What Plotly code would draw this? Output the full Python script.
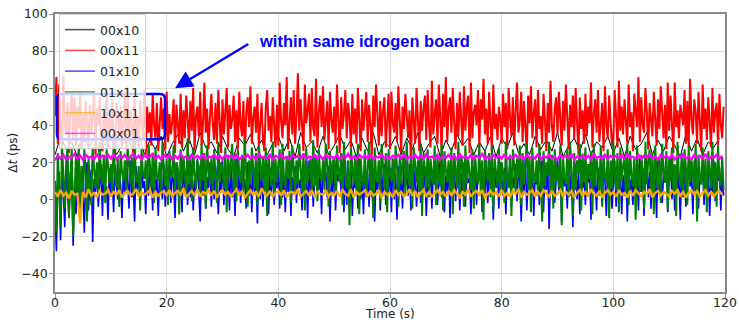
import plotly.graph_objects as go

# ---------------- data (values read/estimated from the picture) ----------------
dt_dense = 0.25   # sample spacing (s) of the dense series
dt_mid = 0.5
dt_slow = 1.0

red_00x11 = [
    45, 66, 30, 62, 38, 28, 67, 41, 35, 52, 25, 48, 58, 33, 55, 29, 50, 38, 58, 27,
    46, 31, 53, 40, 29, 51, 36, 44, 57, 24, 49, 40, 55, 32, 26, 47, 33, 60, 28, 44,
    37, 54, 30, 23, 52, 45, 35, 50, 28, 41, 58, 27, 61, 34, 48, 39, 25, 56, 31, 45,
    28, 53, 42, 32, 59, 24, 50, 36, 47, 29, 57, 40, 33, 52, 26, 44, 55, 38, 49, 27,
    58, 31, 46, 35, 42, 54, 25, 51, 40, 30, 57, 28, 48, 33, 56, 43, 30, 53, 37, 60,
    26, 45, 50, 34, 58, 29, 41, 63, 36, 49, 27, 44, 57, 41, 32, 52, 30, 59, 38, 25,
    54, 35, 47, 60, 28, 51, 38, 43, 56, 31, 48, 27, 58, 40, 34, 53, 24, 46, 55, 39,
    61, 30, 44, 50, 36, 57, 29, 42, 52, 33, 26, 49, 59, 37, 45, 31, 55, 40, 28, 51,
    29, 63, 42, 33, 52, 40, 66, 27, 46, 55, 35, 59, 30, 44, 68, 37, 54, 41, 26, 62,
    41, 48, 57, 31, 60, 38, 34, 65, 28, 47, 56, 39, 61, 32, 45, 53, 27, 58, 43, 36,
    50, 30, 62, 41, 25, 55, 38, 46, 59, 33, 52, 44, 28, 57, 35, 49, 30, 60, 42, 26,
    54, 37, 47, 58, 31, 51, 40, 24, 56, 39, 62, 45, 29, 53, 34, 48, 55, 28, 43, 57,
    27, 58, 41, 36, 52, 31, 61, 44, 25, 50, 38, 57, 47, 33, 48, 18, 55, 42, 30, 60,
    45, 26, 53, 37, 49, 56, 32, 59, 40, 28, 64, 35, 46, 54, 30, 62, 43, 26, 57, 39,
    66, 31, 48, 55, 36, 60, 41, 27, 52, 34, 58, 45, 29, 61, 37, 50, 56, 25, 63, 33,
    47, 51, 40, 59, 28, 54, 43, 65, 35, 49, 30, 58, 42, 26, 62, 38, 46, 32, 50, 44,
    30, 57, 39, 52, 27, 60, 44, 34, 55, 29, 48, 63, 36, 42, 58, 31, 53, 40, 25, 56,
    41, 61, 33, 47, 54, 28, 59, 38, 45, 30, 57, 43, 26, 52, 36, 64, 40, 31, 49, 55,
    35, 58, 42, 29, 53, 37, 62, 46, 27, 51, 39, 56, 32, 60, 44, 24, 55, 38, 48, 30,
    57, 34, 50, 41, 63, 28, 46, 54, 36, 59, 31, 45, 52, 26, 61, 40, 33, 56, 43, 29,
    32, 59, 44, 28, 64, 37, 50, 35, 54, 42, 30, 62, 39, 47, 26, 57, 45, 39, 66, 31,
    55, 40, 36, 60, 47, 27, 52, 41, 34, 58, 44, 29, 54, 38, 61, 46, 33, 51, 27, 63,
    37, 56, 42, 25, 63, 39, 48, 33, 51, 45, 40, 59, 30, 53, 28, 65, 43, 35, 54, 47,
    30, 58, 41, 26, 62, 38, 49, 32, 55, 44, 28, 60, 36, 47, 52, 29, 57, 40, 33, 50,
]

black_00x10 = [
    24, 34, 27, 31, 23, 35, 28, 33, 25, 30, 34, 24, 29, 33, 26, 36, 24, 32, 27, 34,
    23, 30, 35, 26, 33, 24, 36, 28, 31, 25, 34, 27, 23, 33, 29, 35, 26, 32, 24, 30,
    34, 26, 33, 23, 36, 28, 31, 25, 34, 24, 29, 35, 27, 32, 23, 33, 26, 36, 24, 31,
    28, 34, 24, 33, 27, 36, 25, 30, 34, 23, 32, 26, 35, 29, 33, 24, 31, 26, 34, 23,
    33, 28, 36, 25, 30, 24, 34, 27, 32, 26, 36, 23, 29, 33, 26, 35, 24, 31, 28, 34,
    25, 33, 23, 34, 27, 30, 36, 24, 32, 26, 34, 29, 23, 35, 26, 33, 24, 31, 28, 33,
]

blue_01x10 = [
    -5, -28, 8, 15, -22, 12, 3, -15, 18, 5, -10, 15, 9, -25, 10, -8, 18, 6, -12, 14,
    6, -18, 14, 20, -6, 9, 16, -23, 11, 4, 16, -4, 11, 19, -9, 20, 2, 7, -11, 17,
    3, 12, -7, 19, 8, 0, 15, 8, -10, 15, 4, 21, 13, -5, 21, 1, 9, -12, 18, 5,
    14, -3, 22, 6, 10, -8, 17, 2, 19, 13, -6, 20, 4, 11, -9, 16, 7, 0, 19, -4,
    12, 7, 21, -2, 14, 9, -10, 18, 3, 15, 10, -7, 20, 5, 15, -3, 13, 1, 19, -6,
    11, 4, 22, 8, -12, 15, 2, 17, -5, 12, 6, 20, -4, 14, 0, 18, 9, -8, 10, 5,
    21, -3, 13, 7, 16, -6, 19, 1, 12, -9, 22, 3, 14, -2, 17, 6, 11, -5, 20, 2,
    15, -7, 18, 4, 12, -13, 21, 0, 16, -4, 13, 5, 19, -8, 14, 2, 22, -3, 11, 6,
    17, -5, 20, 1, 13, -7, 16, 4, 22, -9, 12, 3, 18, -2, 15, 6, 11, -6, 19, 0,
    14, -10, 21, 2, 16, -4, 12, 8, 19, 5, 13, -8, 22, 9, 15, 1, 18, -12, 11, 3,
    20, -6, 14, 10, 17, 4, 12, -7, 21, -3, 15, 2, 19, -9, 13, 6, 16, -5, 22, 0,
    11, -8, 18, 3, 14, -4, 20, 1, 16, -12, 13, 5, 21, -6, 15, 2, 19, -3, 12, 4,
    17, -7, 22, 0, 14, -11, 18, 3, 13, -5, 20, 7, 15, 2, 19, -6, 12, 4, 16, -4,
    9, 21, -2, 15, 6, 18, -9, 12, 3, 20, -5, 14, 8, 17, -3, 11, 22, 1, 16, -7,
    13, 4, 19, -10, 15, 7, 21, -1, 12, 17, -6, 14, 2, 20, -4, 16, 9, 11, -8, 18,
    5, 22, -3, 14, 10, 19, -7, 13, 3, 21, -2, 16, 8, 12, -11, 18, 6, 15, -5, 20,
    11, 2, 17, -8, 14, 9, 21, -4, 13, 6, 19, -1, 15, 10, -12, 18, 4, 22, -6, 12,
    16, 3, 20, -9, 14, 8, 17, -3, 12, 21, -7, 15, 5, 19, -16, 13, 9, 18, -2, 11,
    22, 4, 15, -12, 17, 7, 13, -5, 20, 2, 16, -15, 11, 19, 0, 14, -8, 21, 6, 12,
    -3, 18, 9, 15, -11, 20, 4, 13, -6, 17, 8, 22, -2, 14, 10, -9, 19, 3, 16, -5,
    12, 21, -4, 15, 7, 18, -8, 13, 2, 20, -12, 16, 5, 11, -3, 19, 9, 14, -6, 22,
    4, 17, -9, 12, 20, 1, 15, -5, 18, 8, 13, -10, 21, 3, 16, -2, 14, 9, 19, -7,
    11, 22, 0, 15, -6, 18, 5, 13, -11, 20, 2, 16, -4, 12, 19, 7, 14, -8, 21, 3,
    16, -5, 13, 9, 20, -3, 15, 6, 18, -9, 12, 4, 21, -1, 14, 10, 17, -6, 13, 2,
]

green_01x11 = [
    10, -18, 25, 5, -15, 30, 12, -5, 20, 28, -10, 15, 28, -20, 8, 24, 2, 30, -8, 18,
    5, 27, 14, -12, 22, 9, -3, 28, 16, 6, 20, 3, 31, 12, 8, 24, -2, 27, 18, 9,
    19, 4, 30, 13, 7, 22, -4, 26, 15, 10, 21, 5, 29, 17, 8, 23, 2, 32, 11, 9,
    18, -6, 27, 14, 11, 21, 3, 30, 19, 6, 25, -2, 28, 12, 10, 20, 4, 31, 16, 7,
    22, -3, 26, 13, 12, 29, 5, 20, 17, -8, 27, 9, 23, 15, 2, 33, 8, 24, -1, 28,
    14, 6, 21, 18, 3, 30, 10, 25, -5, 29, 16, 8, 22, 4, 27, 12, -2, 31, 9, 20,
    17, 6, 28, -7, 24, 11, 19, 30, 5, 22, -1, 27, 14, 9, 24, 3, 32, 16, -4, 21,
    8, 28, 13, 6, 25, -3, 29, 18, 10, 23, 4, 28, -9, 24, 15, 7, 31, 2, 22, 9,
    19, 27, -3, 30, 12, 6, 23, 11, 26, -2, 29, 17, 5, 21, 8, 30, 14, 4, 25, -6,
    28, 9, 16, 22, 3, 32, 7, 24, -1, 27, 13, 10, 21, 5, 30, 18, -4, 26, 8, 20,
    23, 2, 29, 15, 9, 25, -3, 31, 12, 6, 21, -14, 28, 17, 8, 24, 3, 30, -8, 22,
    11, 7, 27, 1, 19, 31, 5, 23, -10, 28, 14, 9, 21, -2, 30, 16, 6, 25, -7, 27,
    13, 10, 22, 3, 29, 18, -4, 24, 8, 20, 26, 2, 31, 12, 7, 23, -5, 28, 15, 9,
    21, 4, 30, -9, 25, 17, 6, 27, 1, 22, 14, 8, 29, -3, 24, 11, 7, 30, -6, 26,
    16, 9, 21, 3, 28, -8, 25, 13, 6, 31, 2, 23, 19, -4, 29, 8, 22, 14, 5, 27,
    -5, 24, 12, 8, 30, 3, 21, -11, 27, 16, 9, 25, 1, 29, -6, 22, 13, 7, 28, 4,
    20, 14, -2, 31, 10, 6, 24, -9, 27, 18, 4, 22, 12, 29, -3, 25, 8, 17, 30, 5,
    23, -7, 28, 11, 9, 21, 2, 30, 15, -12, 26, 7, 20, 13, 31, 4, 24, -5, 27, 10,
    18, 6, 29, -14, 22, 12, 8, 27, 1, 31, 16, -9, 25, 5, 21, 14, 30, -6, 23, 9,
    28, 3, 19, 11, 26, -8, 30, 7, 22, 15, 2, 29, -4, 24, 12, 9, 27, -10, 21, 6,
    31, 13, 5, 25, -7, 28, 10, 18, 23, 2, 30, -3, 26, 14, 7, 22, -11, 29, 11, 4,
    24, 16, -5, 31, 8, 21, 27, 3, 25, -8, 29, 12, 6, 23, -2, 30, 15, 9, 26, -6,
    22, 10, 28, 4, 19, -9, 31, 13, 7, 25, 1, 27, 17, -3, 29, 9, 21, 14, 5, 30,
    -12, 24, 11, 8, 28, 2, 22, -7, 26, 15, 6, 31, 3, 20, -4, 29, 12, 8, 23, 5,
]

orange_10x11 = [
    4, 1.5, 5, 2, 3.5, 0.5, 4.5, 2.5, 3, -13, 4, 1, 5.5, 2, 3.5, 1, 4.5, 2.5, 3, 5,
    1.5, 4, 2.5, 5, 1, 3.5, 4.5, 2, 3, 5.5, 1.5, 4, 2.5, 3.5, 5, 1, 4, 2, 3.5, 4.5,
    2, 5, 1.5, 3.5, 4.5, 2.5, 6, 1, 3, 4.5, 2, 5.5, 1.5, 4, 3, 5, 2, 4.5, 1, 3.5,
    5, 2.5, 4, 1.5, 3.5, 5.5, 2, 4.5, 1, 3, 5, 2.5, 4, 1.5, 6, 3, 2, 4.5, 1.5, 3.5,
    4.5, 2, 5, 1, 3.5, 4, 2.5, 5.5, 1.5, 3, 4.5, 2, 5, 1, 4, 3, 2.5, 5, 1.5, 3.5,
    2, 4.5, 1.5, 5, 3, 2, 5.5, 1, 4, 2.5, 3.5, 5, 1.5, 4.5, 2, 3, 5, 1, 4, 2.5,
    3.5, 1, 5, 2.5, 4, 1.5, 3, 5.5, 2, 4.5, 1, 3.5, 5, 2, 4, 1.5, 3, 5, 2.5, 4,
    1.5, 4.5, 2, 5, 3, 1, 4, 2.5, 5.5, 1.5, 3.5, 4.5, 2, 5, 1, 3, 4.5, 2.5, 4, 1.5,
    5, 2, 3.5, 1.5, 4.5, 3, 5.5, 1, 4, 2.5, 3.5, 5, 1.5, 4, 2, 5, 3, 1.5, 4.5, 2,
    3, 5, 1.5, 4, 2.5, 4.5, 1, 3.5, 5, 2, 4, 1.5, 5.5, 3, 2, 4.5, 1, 3.5, 5, 2.5,
    4, 1.5, 5, 2.5, 3.5, 1, 4.5, 2, 5, 3, 1.5, 4, 2.5, 5.5, 1, 3.5, 4.5, 2, 4, 3,
    1.5, 4.5, 3, 5, 2, 4, 1, 3.5, 5, 2.5, 4.5, 1.5, 3, 5, 2, 4, 1.5, 3.5, 4.5, 2.5,
]

magenta_00x01 = [
    21, 23.5, 22, 24, 21.5, 23, 22.5, 24.5, 22, 23.5, 21.5, 24, 22.5, 23, 21.5, 24.5, 22, 23.5, 22.5, 24,
    22, 24.5, 21.5, 23.5, 22.5, 24, 21.5, 23, 24.5, 22, 23.5, 21.5, 24, 22.5, 23, 24.5, 22, 23.5, 21.5, 24,
    22.5, 24, 21.5, 23.5, 22, 24.5, 22.5, 23, 21.5, 24, 22.5, 23.5, 22, 24.5, 21.5, 23, 22.5, 24, 22, 23.5,
    21.5, 24, 22.5, 23.5, 22, 24.5, 21.5, 23, 22.5, 24, 22, 23.5, 21.5, 24.5, 22.5, 23, 22, 24, 21.5, 23.5,
    22.5, 24.5, 22, 23, 21.5, 24, 22.5, 23.5, 22, 24.5, 21.5, 23, 22.5, 24, 22, 23.5, 21.5, 24, 22.5, 23,
    22, 24, 21.5, 23.5, 22.5, 24.5, 22, 23, 21.5, 24, 22.5, 23.5, 22, 24.5, 21.5, 23, 22.5, 24, 22, 23.5,
    21.5, 23.5, 22.5, 24, 22, 24.5, 21.5, 23, 22.5, 24, 22, 23.5, 21.5, 24.5, 22.5, 23, 22, 24, 21.5, 23.5,
    22.5, 24, 22, 23.5, 21.5, 24.5, 22.5, 23, 22, 24, 21.5, 23.5, 22.5, 24.5, 22, 23, 21.5, 24, 22.5, 23.5,
    22, 24.5, 21.5, 23, 22.5, 24, 22, 23.5, 21.5, 24, 22.5, 23, 22, 24.5, 21.5, 23.5, 22.5, 24, 22, 23,
    21.5, 24, 22.5, 23.5, 22, 24.5, 21.5, 23, 22.5, 24, 22, 23.5, 21.5, 24.5, 22.5, 23, 22, 24, 21.5, 23.5,
    22.5, 23.5, 22, 24, 21.5, 24.5, 22.5, 23, 22, 24, 21.5, 23.5, 22.5, 24.5, 22, 23, 21.5, 24, 22.5, 23.5,
    22, 24, 21.5, 23.5, 22.5, 24.5, 22, 23, 21.5, 24, 22.5, 23.5, 22, 24.5, 21.5, 23, 22.5, 24, 22, 23.5,
]

x_ticks = [0, 20, 40, 60, 80, 100, 120]
y_ticks = [-40, -20, 0, 20, 40, 60, 80, 100]
x_title = "Time (s)"
y_title = "Δ<i>t</i> (ps)"
annotation_text = "within same idrogen board"

# ---------------- figure ----------------
def tgrid(vals, step):
    return [i * step for i in range(len(vals))]

series = [
    ("00x10", black_00x10, dt_slow, "black", 1.0),
    ("00x11", red_00x11, dt_dense, "#ff0000", 2.0),
    ("01x10", blue_01x10, dt_dense, "#0000ff", 1.6),
    ("01x11", green_01x11, dt_dense, "#008000", 2.0),
    ("10x11", orange_10x11, dt_mid, "#ffa500", 2.4),
    ("00x01", magenta_00x01, dt_mid, "#ff00ff", 2.4),
]

fig = go.Figure()
for name, vals, step, color, w in series:
    fig.add_trace(go.Scatter(
        x=tgrid(vals, step), y=vals, mode="lines", name=name,
        showlegend=False, line=dict(color=color, width=w),
    ))
# legend entries (thin, semi-transparent lines as in the reference legend)
for name, vals, step, color, w in series:
    fig.add_trace(go.Scatter(
        x=[None], y=[None], mode="lines", name=name, legendgroup=name,
        line=dict(color=color, width=1.5), opacity=0.7,
    ))

axis_common = dict(
    showgrid=True, gridcolor="#dcdcdc", gridwidth=1,
    showline=True, linecolor="#8a8a8a", linewidth=1.5, mirror=True,
    ticks="outside", ticklen=4, tickcolor="#8a8a8a", tickwidth=1,
    zeroline=False, automargin=False,
    tickfont=dict(family="DejaVu Sans", size=12.5, color="#222"),
)

fig.update_xaxes(range=[0, 120], tickvals=x_ticks, ticklabelstandoff=-6, **axis_common)
fig.update_yaxes(range=[-50, 100], tickvals=y_ticks, ticklabelstandoff=-1, **axis_common)

# axis titles
fig.add_annotation(x=0.5, y=-0.1075, xref="paper", yref="paper", text=x_title,
                   showarrow=False, xanchor="center", yanchor="bottom", borderpad=0,
                   font=dict(family="DejaVu Sans", size=12, color="#222"))
fig.add_annotation(x=-0.063, y=0.5, xref="paper", yref="paper", text=y_title,
                   showarrow=False, xanchor="center", yanchor="middle", textangle=-90,
                   font=dict(family="DejaVu Sans", size=12, color="#222"))

# rounded rectangle around the two legend entries
x0, x1, y0, y1 = 0.35, 19.7, 32.4, 56.8
rx, ry = 0.9, 2.7
path = (f"M {x0+rx},{y0} L {x1-rx},{y0} Q {x1},{y0} {x1},{y0+ry} "
        f"L {x1},{y1-ry} Q {x1},{y1} {x1-rx},{y1} L {x0+rx},{y1} "
        f"Q {x0},{y1} {x0},{y1-ry} L {x0},{y0+ry} Q {x0},{y0} {x0+rx},{y0} Z")
fig.add_shape(type="path", path=path, xref="x", yref="y",
              line=dict(color="#0000ff", width=2.5), layer="above")

# arrow
fig.add_annotation(x=21.5, y=60, ax=34.9, ay=84.3, xref="x", yref="y",
                   axref="x", ayref="y", text="", showarrow=True,
                   arrowhead=2, arrowsize=1.6, arrowwidth=2.2, arrowcolor="#0000ff")
# text
fig.add_annotation(x=36.2, y=85.4, xref="x", yref="y", text=f"<b>{annotation_text}</b>",
                   showarrow=False, xanchor="left", yanchor="middle",
                   font=dict(family="Liberation Sans", size=16.5, color="#0000ff"))

fig.update_layout(
    width=739, height=322,
    margin=dict(l=55, r=14, t=14, b=30),
    plot_bgcolor="white", paper_bgcolor="white",
    showlegend=True,
    legend=dict(x=0.006, y=1.0, xanchor="left", yanchor="top",
                bgcolor="rgba(255,255,255,0.8)", bordercolor="#d0d0d0", borderwidth=1,
                font=dict(family="DejaVu Sans", size=12.5, color="#222"),
                itemwidth=30, tracegroupgap=1.5),
)

fig.write_html("out.html")
